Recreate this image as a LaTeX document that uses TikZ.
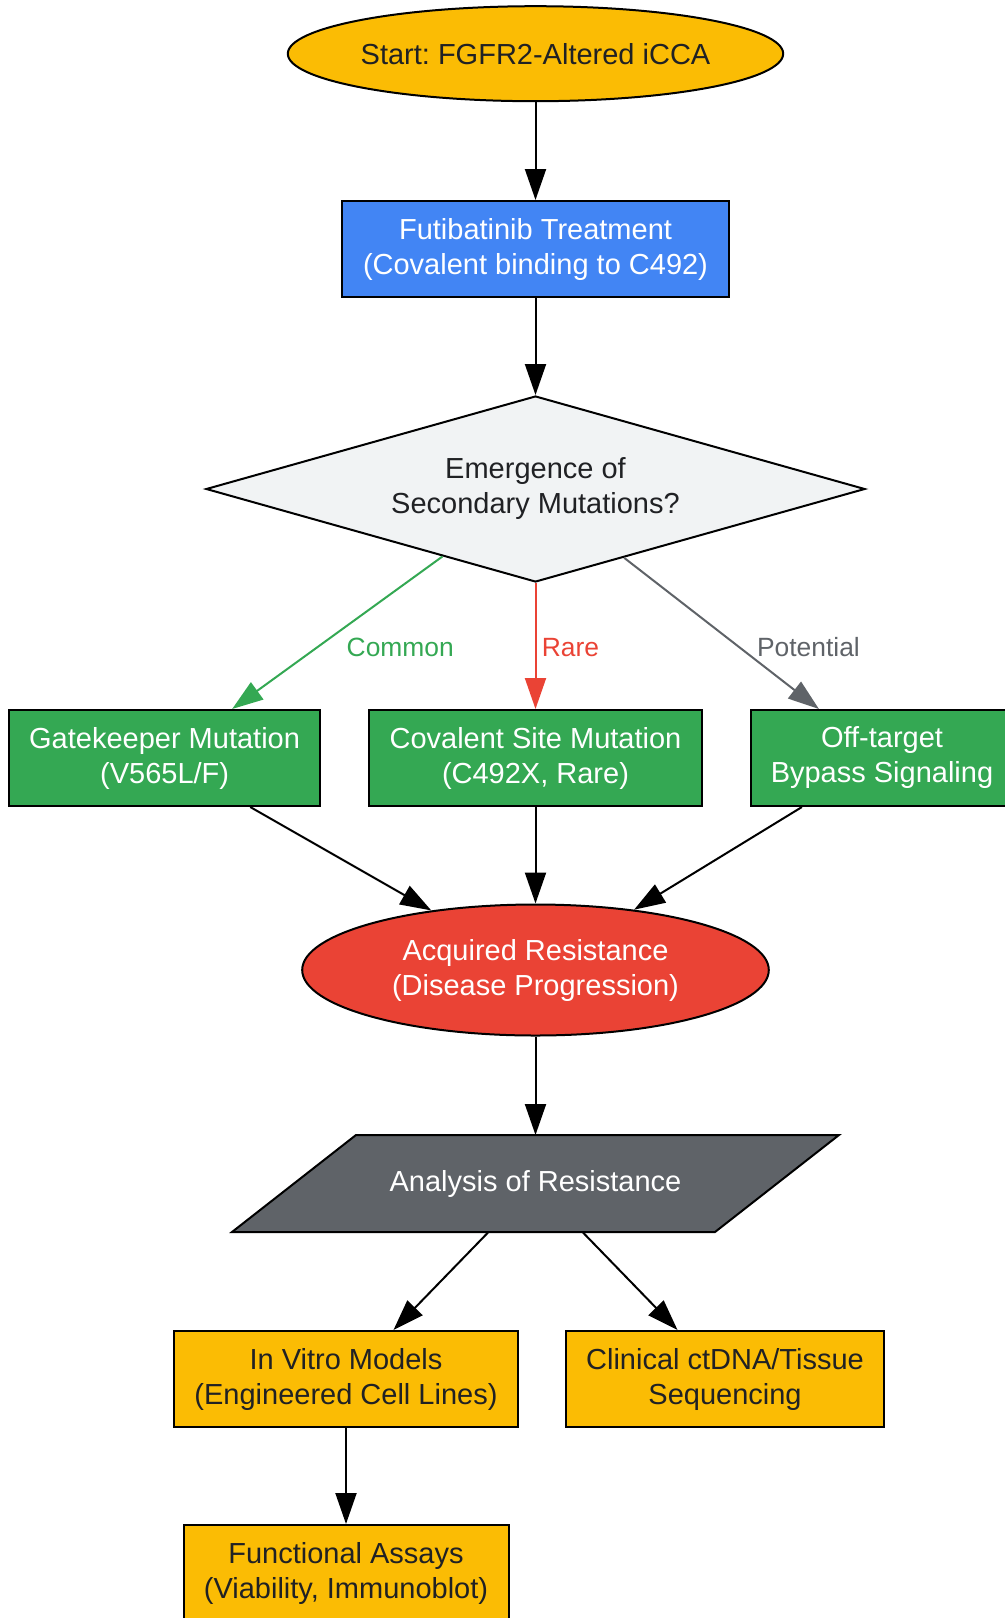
\documentclass[tikz,border=0pt]{standalone}
\usepackage{fontspec}
\setmainfont{Liberation Sans}
\usepackage{tikz}
\usetikzlibrary{shapes.geometric, arrows.meta, backgrounds}
\frenchspacing

\definecolor{gyellow}{HTML}{FBBC04}
\definecolor{gblue}{HTML}{4285F4}
\definecolor{ggreen}{HTML}{34A853}
\definecolor{gred}{HTML}{EA4335}
\definecolor{ggray}{HTML}{5F6368}
\definecolor{glight}{HTML}{F1F3F4}
\definecolor{gtext}{HTML}{202124}

\tikzset{
	base/.style={draw=black, line width=1pt, inner sep=0pt, align=center,
		font=\fontsize{14.5pt}{17.5pt}\selectfont},
	box/.style={base, rectangle, minimum height=48pt},
	arr/.style={line width=1pt, -{Triangle[length=15.5pt, width=10.5pt]}},
	lbl/.style={font=\fontsize{13.2pt}{16pt}\selectfont, inner sep=0pt}
}

\begin{document}
\begin{tikzpicture}[x=0.5pt, y=-0.5pt]
		\useasboundingbox (0,0) rectangle (1005,1618);
		% nodes
		\node[base, ellipse, fill=gyellow, text=gtext, minimum width=247.7pt,
		minimum height=47.5pt] (start) at (535.5,53.7) {Start: FGFR2-Altered iCCA};
		\node[box, fill=gblue, text=white, minimum width=193.5pt] (futi) at (535.5,249)
		{Futibatinib Treatment\\(Covalent binding to C492)};
		\node[base, diamond, shape aspect=3.54, fill=glight, text=gtext,
		minimum width=329.5pt, minimum height=93pt] (dec) at (535.5,489)
		{Emergence of\\Secondary Mutations?};
		\node[box, fill=ggreen, text=white, minimum width=155.3pt] (gate) at (164.6,758)
		{Gatekeeper Mutation\\(V565L/F)};
		\node[box, fill=ggreen, text=white, minimum width=166.8pt] (cov) at (535.5,758)
		{Covalent Site Mutation\\(C492X, Rare)};
		\node[box, fill=ggreen, text=white, minimum width=131pt] (off) at (882,758)
		{Off-target\\Bypass Signaling};
		\node[base, ellipse, fill=gred, text=white, minimum width=233.3pt,
		minimum height=65.5pt] (res) at (535.5,970)
		{Acquired Resistance\\(Disease Progression)};
		\node[base, draw=none, text=white, minimum width=240.5pt,
		minimum height=47.5pt] (ana) at (535.5,1183.5) {Analysis of Resistance};
		\begin{scope}[on background layer]
		\draw[line width=1pt, fill=ggray] ([xshift=31pt]ana.north west)
		-- ([xshift=31pt]ana.north east) -- ([xshift=-31pt]ana.south east)
		-- ([xshift=-31pt]ana.south west) -- cycle;
		\end{scope}
		\node[box, fill=gyellow, text=gtext, minimum width=172pt] (vitro) at (346,1379)
		{In Vitro Models\\(Engineered Cell Lines)};
		\node[box, fill=gyellow, text=gtext, minimum width=159.3pt] (clin) at (725,1379)
		{Clinical ctDNA/Tissue\\Sequencing};
		\node[box, fill=gyellow, text=gtext, minimum width=162.5pt] (func) at (346,1573)
		{Functional Assays\\(Viability, Immunoblot)};
		% connectors
		\draw[arr] (start) -- (futi);
		\draw[arr] (futi) -- (dec);
		\draw[arr, draw=ggreen, fill=ggreen] (dec) -- node[lbl, text=ggreen, pos=0.595,
		xshift=41.5pt] {Common} (gate);
		\draw[arr, draw=gred, fill=gred] (dec) -- node[lbl, text=gred, pos=0.51,
		xshift=17.5pt] {Rare} (cov);
		\draw[arr, draw=ggray, fill=ggray] (dec) -- node[lbl, text=ggray, pos=0.59,
		xshift=34.7pt] {Potential} (off);
		\draw[arr] (gate) -- (res);
		\draw[arr] (cov) -- (res);
		\draw[arr] (off) -- (res);
		\draw[arr] (res) -- (ana);
		\draw[arr] (ana) -- (vitro);
		\draw[arr] (ana) -- (clin);
		\draw[arr] (vitro) -- (func);
	\end{tikzpicture}
\end{document}
